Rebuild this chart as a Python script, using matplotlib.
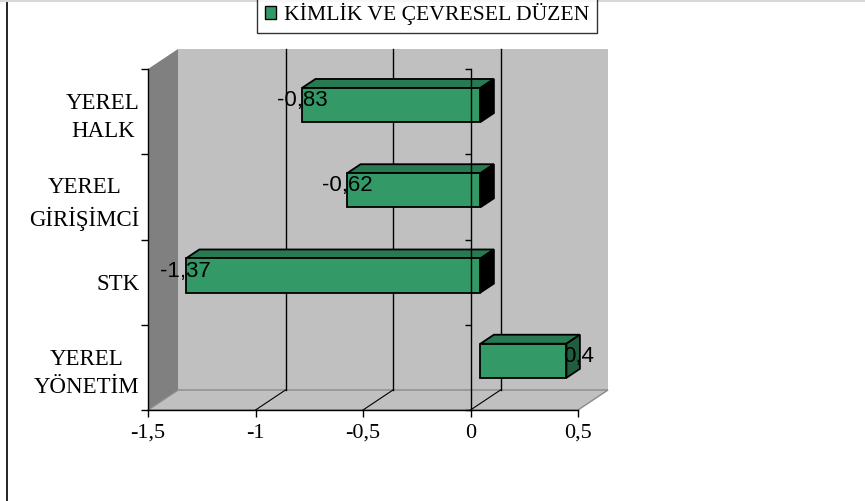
import matplotlib
matplotlib.use('Agg')
import matplotlib.pyplot as plt
from matplotlib.patches import Polygon, Patch
from matplotlib.lines import Line2D, TICKLEFT

# ---------------- data ----------------
categories = ["YEREL\nYÖNETİM", "STK", "YEREL\nGİRİŞİMCİ", "YEREL\nHALK"]
values = [0.4, -1.37, -0.62, -0.83]
value_labels = ["0,4", "-1,37", "-0,62", "-0,83"]
xticks = [-1.5, -1, -0.5, 0, 0.5]
xtick_labels = ["-1,5", "-1", "-0,5", "0", "0,5"]
series_name = "KİMLİK VE ÇEVRESEL DÜZEN"

# ---------------- style ----------------
plt.rcParams['font.family'] = ['Liberation Serif', 'DejaVu Serif']
FRONT = '#339966'
TOP = '#287a52'
SIDE_POS = '#1f5e3f'
SIDE_NEG = '#000000'
WALL = '#c0c0c0'
SIDEWALL = '#808080'

W, H = 865, 501
fig = plt.figure(figsize=(W / 100, H / 100), dpi=100)
ax_w, ax_h = 430, 341
ax = fig.add_axes([148 / W, 1 - 410 / H, ax_w / W, ax_h / H])
xmin, xmax = xticks[0], xticks[-1]
n = len(categories)
ax.set_xlim(xmin, xmax)
ax.set_ylim(-0.5, n - 0.5)
ax.patch.set_visible(False)
for s in ['top', 'right']:
    ax.spines[s].set_visible(False)
for s in ['left', 'bottom']:
    ax.spines[s].set_linewidth(1)
    ax.spines[s].set_zorder(4)

# depth vector (30 px right, 20 px up) in data units
dX = 30 * (xmax - xmin) / ax_w
dY = 20 * n / ax_h
y0, y1 = -0.5, n - 0.5

# walls
ax.add_patch(Polygon([(xmin + dX, y0 + dY), (xmax + dX, y0 + dY), (xmax + dX, y1 + dY), (xmin + dX, y1 + dY)],
                     closed=True, facecolor=WALL, edgecolor='none', zorder=0, clip_on=False))
ax.add_patch(Polygon([(xmin, y0), (xmin, y1), (xmin + dX, y1 + dY), (xmin + dX, y0 + dY)],
                     closed=True, facecolor=SIDEWALL, edgecolor='none', zorder=0.5, clip_on=False))
ax.add_patch(Polygon([(xmin, y0), (xmax, y0), (xmax + dX, y0 + dY), (xmin + dX, y0 + dY)],
                     closed=True, facecolor=WALL, edgecolor='#8a8a8a', lw=1, zorder=0.6, clip_on=False))

# gridlines on back wall and floor
for t in xticks[1:-1]:
    ax.plot([t + dX, t + dX], [y0 + dY, y1 + dY], color='k', lw=1, zorder=1, clip_on=False)
for t in xticks[1:-1]:
    ax.plot([t, t + dX], [y0, y0 + dY], color='k', lw=0.8, zorder=1, clip_on=False)

# ticks / labels
ax.set_xticks(xticks, xtick_labels)
ax.tick_params(axis='x', direction='out', length=5, width=1, pad=5, labelsize=16)
ax.set_yticks(range(n), categories)
ax.tick_params(axis='y', which='major', length=0, pad=6, labelsize=16.5)
for lbl in ax.get_yticklabels():
    lbl.set_multialignment('center')
    lbl.set_linespacing(1.45)
bounds = [i - 0.5 for i in range(n + 1)]
ax.set_yticks(bounds, minor=True)
ax.tick_params(axis='y', which='minor', direction='out', length=5, width=1)

# bars
f, b, hh = 0.33, 0.78, 0.2
for i, v in enumerate(values):
    x0, x1 = min(0, v), max(0, v)
    fy0, fy1 = i - hh + f * dY, i + hh + f * dY
    by1, by0 = i + hh + b * dY, i - hh + b * dY
    top = [(x0 + f * dX, fy1), (x1 + f * dX, fy1), (x1 + b * dX, by1), (x0 + b * dX, by1)]
    side = [(x1 + f * dX, fy0), (x1 + f * dX, fy1), (x1 + b * dX, by1), (x1 + b * dX, by0)]
    front = [(x0 + f * dX, fy0), (x1 + f * dX, fy0), (x1 + f * dX, fy1), (x0 + f * dX, fy1)]
    ax.add_patch(Polygon(top, closed=True, facecolor=TOP, edgecolor='k', lw=1.3, zorder=3, clip_on=False))
    ax.add_patch(Polygon(side, closed=True, facecolor=SIDE_POS if v > 0 else SIDE_NEG,
                         edgecolor='k', lw=1.3, zorder=3, clip_on=False))
    ax.add_patch(Polygon(front, closed=True, facecolor=FRONT, edgecolor='k', lw=1.3, zorder=3.1, clip_on=False))

# zero line on front plane with ticks
ax.plot([0, 0], [y0, y1], color='k', lw=1, zorder=4, clip_on=False)
ax.plot([0] * len(bounds), bounds, ls='none', marker=TICKLEFT, ms=4, mew=1, color='k', zorder=4, clip_on=False)

# value labels
for i, (v, t) in enumerate(zip(values, value_labels)):
    lx = v + (0.75 * dX if v > 0 else f * dX)
    ax.text(lx, i + 0.55 * dY, t, ha='center', va='center', fontsize=16,
            family=['Liberation Sans', 'DejaVu Sans'], zorder=5, clip_on=False)

# legend
handle = Patch(facecolor=FRONT, edgecolor='k', lw=1)
leg = fig.legend([handle], [series_name], loc='center', bbox_to_anchor=(427 / W, 1 - 14 / H),
                 fontsize=15.6, frameon=True, fancybox=False, borderpad=0.35,
                 handlelength=0.55, handleheight=0.55, handletextpad=0.35, borderaxespad=0)
leg.get_frame().set_edgecolor('k')
leg.get_frame().set_linewidth(1)

# outer chart frame
fig.add_artist(Line2D([7.5 / W, 7.5 / W], [0, 1], color='k', lw=1.2))
fig.add_artist(Line2D([0, 1], [1 - 0.5 / H, 1 - 0.5 / H], color='#d8d8d8', lw=1.5))

fig.savefig('out.png', dpi=100)
